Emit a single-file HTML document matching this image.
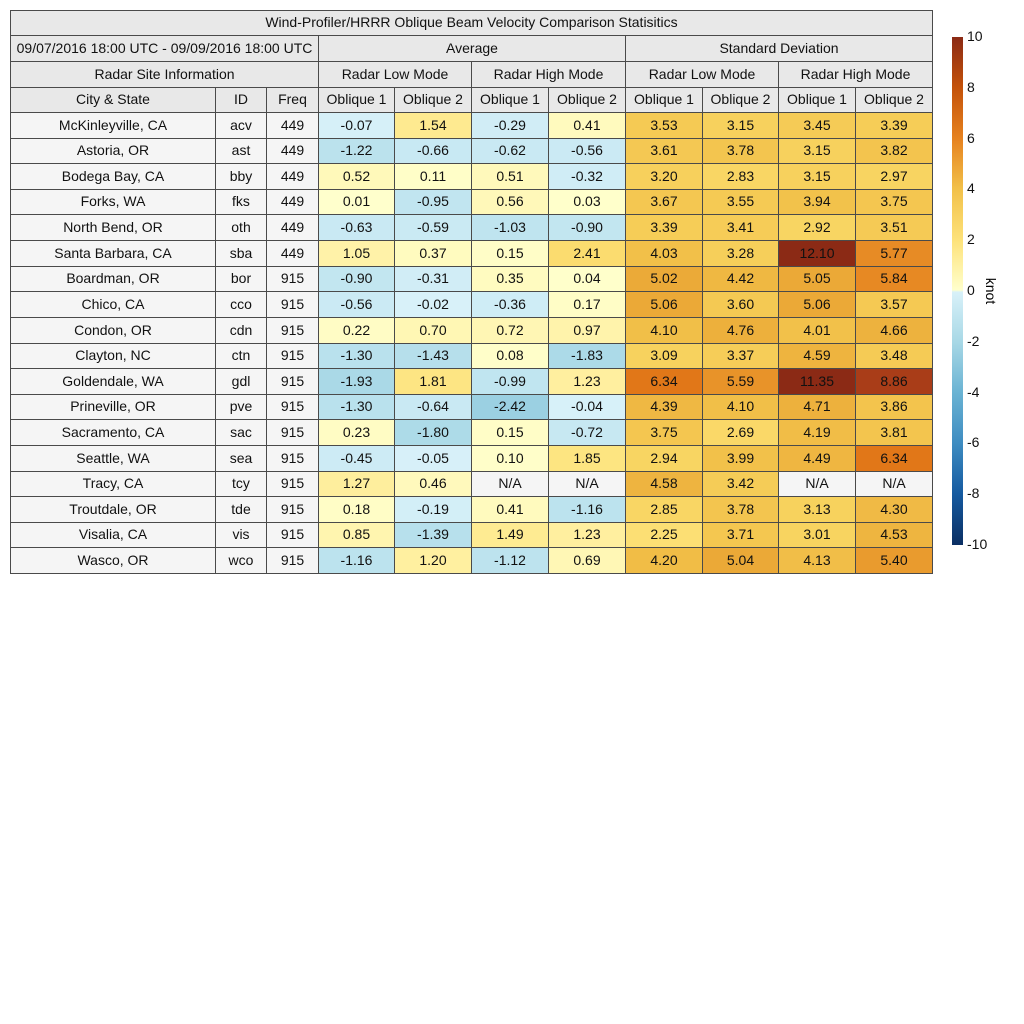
<!DOCTYPE html>
<html><head><meta charset="utf-8"><style>
body{margin:0;background:#fff;font-family:"Liberation Sans",sans-serif;}
#root{position:relative;width:1024px;height:1024px;}
.c{position:absolute;box-sizing:border-box;border:1px solid #4a4a4a;display:flex;align-items:center;justify-content:center;font-size:14px;color:#111;white-space:nowrap;padding-bottom:2px;}
.h{background:#e8e8e8;}
.t{background:#f5f5f5;}
#cb{position:absolute;left:952px;top:37px;width:11px;height:508px;background:linear-gradient(to top,#0b2f63 0%,#155aa0 10%,#3e8cc1 20%,#6ab3d3 30%,#a8d8e6 40%,#d8f1f9 49.8%,#ffffcc 50.2%,#fde27a 60%,#f2c14a 70%,#e6821f 80%,#c4520a 90%,#8b2a15 100%);}
.tk{position:absolute;left:967px;font-size:14px;color:#111;}
</style></head><body><div id="root">
<div id="cb"></div>
<div style="position:absolute;left:978px;top:283px;font-size:14px;transform:rotate(90deg);">knot</div>
</div>
<script>
const cities=["McKinleyville, CA","Astoria, OR","Bodega Bay, CA","Forks, WA","North Bend, OR","Santa Barbara, CA","Boardman, OR","Chico, CA","Condon, OR","Clayton, NC","Goldendale, WA","Prineville, OR","Sacramento, CA","Seattle, WA","Tracy, CA","Troutdale, OR","Visalia, CA","Wasco, OR"];
const ids=["acv","ast","bby","fks","oth","sba","bor","cco","cdn","ctn","gdl","pve","sac","sea","tcy","tde","vis","wco"];
const freqs=[449,449,449,449,449,449,915,915,915,915,915,915,915,915,915,915,915,915];
const avgLow1=[-0.07,-1.22,0.52,0.01,-0.63,1.05,-0.90,-0.56,0.22,-1.30,-1.93,-1.30,0.23,-0.45,1.27,0.18,0.85,-1.16];
const avgLow2=[1.54,-0.66,0.11,-0.95,-0.59,0.37,-0.31,-0.02,0.70,-1.43,1.81,-0.64,-1.80,-0.05,0.46,-0.19,-1.39,1.20];
const avgHigh1=[-0.29,-0.62,0.51,0.56,-1.03,0.15,0.35,-0.36,0.72,0.08,-0.99,-2.42,0.15,0.10,null,0.41,1.49,-1.12];
const avgHigh2=[0.41,-0.56,-0.32,0.03,-0.90,2.41,0.04,0.17,0.97,-1.83,1.23,-0.04,-0.72,1.85,null,-1.16,1.23,0.69];
const sdLow1=[3.53,3.61,3.20,3.67,3.39,4.03,5.02,5.06,4.10,3.09,6.34,4.39,3.75,2.94,4.58,2.85,2.25,4.20];
const sdLow2=[3.15,3.78,2.83,3.55,3.41,3.28,4.42,3.60,4.76,3.37,5.59,4.10,2.69,3.99,3.42,3.78,3.71,5.04];
const sdHigh1=[3.45,3.15,3.15,3.94,2.92,12.10,5.05,5.06,4.01,4.59,11.35,4.71,4.19,4.49,null,3.13,3.01,4.13];
const sdHigh2=[3.39,3.82,2.97,3.75,3.51,5.77,5.84,3.57,4.66,3.48,8.86,3.86,3.81,6.34,null,4.30,4.53,5.40];
const ticks=[10,8,6,4,2,0,-2,-4,-6,-8,-10];
const stops=[[-10,[11,47,99]],[-8,[21,90,160]],[-6,[62,140,193]],[-4,[106,179,211]],[-2,[168,216,230]],[-0.001,[216,241,249]],[0,[255,255,204]],[1,[255,243,170]],[2,[253,226,122]],[3,[248,212,96]],[4,[242,193,74]],[5,[235,171,56]],[6,[230,130,31]],[7,[216,98,10]],[8,[196,82,10]],[9,[165,57,26]],[10,[139,42,21]]];
function col(v){v=Math.max(-10,Math.min(10,v));for(let i=0;i<stops.length-1;i++){const a=stops[i],b=stops[i+1];if(v>=a[0]&&v<=b[0]){const f=(v-a[0])/(b[0]-a[0]||1);return 'rgb('+a[1].map((x,k)=>Math.round(x+(b[1][k]-x)*f)).join(',')+')';}}return '#fff';}
const root=document.getElementById('root');
const X=[10,215,266,318,394,471,548,625,702,778,855,932];
function cell(x0,x1,y0,y1,txt,cls,name,bg){const d=document.createElement('div');d.className='c '+cls;d.style.left=x0+'px';d.style.top=y0+'px';d.style.width=(x1-x0+1)+'px';d.style.height=(y1-y0+1)+'px';if(bg)d.style.background=bg;d.textContent=txt;


root.appendChild(d);}
cell(10,932,10,35,"Wind-Profiler/HRRR Oblique Beam Velocity Comparison Statisitics",'h','table-title');
cell(10,318,35,61,"09/07/2016 18:00 UTC - 09/09/2016 18:00 UTC",'h','date-range');
cell(318,625,35,61,"Average",'h','average-header');
cell(625,932,35,61,"Standard Deviation",'h','stddev-header');
cell(10,318,61,87,"Radar Site Information",'h','site-info-header');
[["Radar Low Mode",318,471],["Radar High Mode",471,625],["Radar Low Mode",625,778],["Radar High Mode",778,932]].forEach((m,i)=>cell(m[1],m[2],61,87,m[0],'h','mode-header-'+i));
const hd=["City & State","ID","Freq","Oblique 1","Oblique 2","Oblique 1","Oblique 2","Oblique 1","Oblique 2","Oblique 1","Oblique 2"];
hd.forEach((h,i)=>cell(X[i],X[i+1],87,112,h,'h','column-header-'+i));
const series=[avgLow1,avgLow2,avgHigh1,avgHigh2,sdLow1,sdLow2,sdHigh1,sdHigh2];
const rh=(573-112)/cities.length;
cities.forEach((c,r)=>{const y0=Math.round(112+r*rh),y1=Math.round(112+(r+1)*rh);
cell(X[0],X[1],y0,y1,c,'t','city-'+ids[r]);cell(X[1],X[2],y0,y1,ids[r],'t','id-'+ids[r]);cell(X[2],X[3],y0,y1,String(freqs[r]),'t','freq-'+ids[r]);
series.forEach((s,k)=>{const v=s[r];cell(X[k+3],X[k+4],y0,y1,v==null?'N/A':v.toFixed(2),v==null?'t':'','value-'+ids[r]+'-'+k,v==null?null:col(v));});});
ticks.forEach(t=>{const d=document.createElement('div');d.className='tk';d.style.top=(37+(10-t)/20*508-9)+'px';d.textContent=t;


root.appendChild(d);});
</script></body></html>
